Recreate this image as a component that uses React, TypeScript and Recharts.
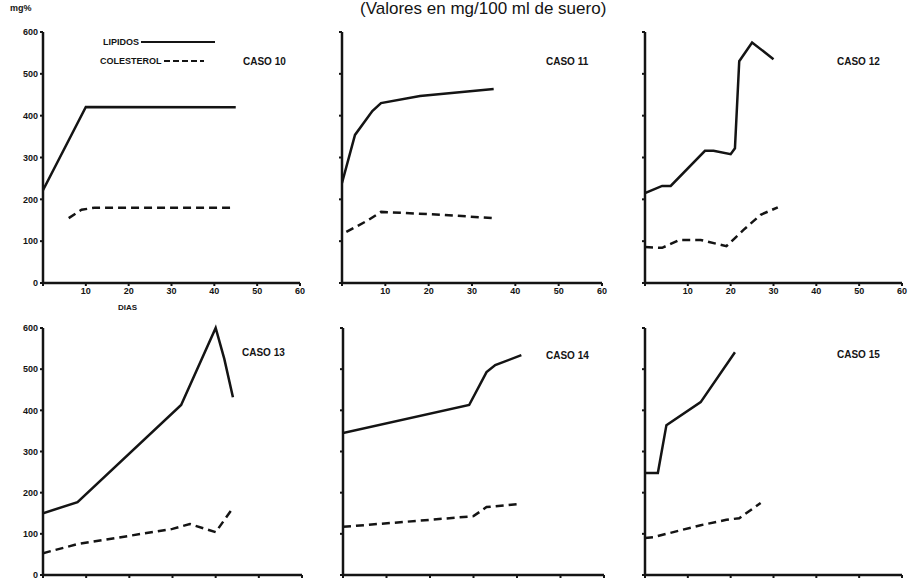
import { LineChart, Line, XAxis, YAxis } from 'recharts';

// Valores: [día, mg/100 ml]
const caso10Lipidos = [[0, 222], [10, 421], [45, 420]];
const caso10Colesterol = [[6, 155], [9, 175], [12, 180], [44, 180]];
const caso11Lipidos = [[0, 239], [3, 354], [7, 411], [9, 430], [18, 447], [35, 464]];
const caso11Colesterol = [[1, 122], [6, 150], [9, 170], [23, 163], [35, 155]];
const caso12Lipidos = [[0, 215], [4, 232], [6, 232], [14, 316], [16, 316], [20, 308], [21, 322], [22, 530], [25, 575], [30, 535]];
const caso12Colesterol = [[0, 86], [4, 84], [8, 103], [13, 103], [19, 88], [23, 127], [27, 163], [31, 181]];
const caso13Lipidos = [[0, 150], [8, 177], [32, 413], [40, 600], [42, 525], [44, 432]];
const caso13Colesterol = [[0, 53], [8, 75], [30, 112], [34, 124], [40, 104], [44, 163]];
const caso14Lipidos = [[0, 345], [29, 413], [33, 493], [35, 510], [41, 534]];
const caso14Colesterol = [[0, 117], [20, 134], [30, 143], [33, 165], [41, 173]];
const caso15Lipidos = [[0, 248], [3, 248], [5, 364], [13, 420], [21, 541]];
const caso15Colesterol = [[0, 90], [2, 92], [13, 121], [19, 134], [22, 138], [27, 175]];

const diasTicks = [0, 10, 20, 30, 40, 50, 60];
const mgTicks = [0, 100, 200, 300, 400, 500, 600];

const INK = '#141414';
const FONT = 'Arial, "Liberation Sans", sans-serif';

const toRows = (pts: number[][]) => pts.map(([dia, v]) => ({ dia, v }));

interface PanelProps {
    title: string;
    lipidos: number[][];
    colesterol: number[][];
    left: number;
    top: number;
    w: number;
    h: number;
    yLabels?: boolean;
    xLabels?: boolean;
    titlePos: [number, number];
}

function Panel({ title, lipidos, colesterol, left, top, w, h, yLabels, xLabels, titlePos }: PanelProps) {
    const tick = { fill: INK, fontSize: 9, fontWeight: 700, fontFamily: FONT };
    return (
        <>
            <div style={{ position: 'absolute', left: left - 40, top: top - 10 }}>
                <LineChart width={w + 50} height={h + 35} margin={{ top: 10, right: 10, left: 0, bottom: 0 }}>
                    <XAxis
                        type="number"
                        dataKey="dia"
                        domain={[0, 60]}
                        ticks={diasTicks}
                        height={25}
                        allowDataOverflow
                        tick={tick}
                        tickSize={3}
                        tickFormatter={(v) => (xLabels && v > 0 ? String(v) : '')}
                        axisLine={{ stroke: INK, strokeWidth: 2.5 }}
                        tickLine={{ stroke: INK, strokeWidth: 2 }}
                    />
                    <YAxis
                        type="number"
                        domain={[0, 600]}
                        ticks={mgTicks}
                        width={40}
                        tick={tick}
                        tickSize={3}
                        tickFormatter={(v) => (yLabels ? String(v) : '')}
                        axisLine={{ stroke: INK, strokeWidth: 2.5 }}
                        tickLine={{ stroke: INK, strokeWidth: 2 }}
                    />
                    <Line
                        data={toRows(lipidos)}
                        dataKey="v"
                        type="linear"
                        stroke={INK}
                        strokeWidth={2.5}
                        dot={false}
                        isAnimationActive={false}
                    />
                    <Line
                        data={toRows(colesterol)}
                        dataKey="v"
                        type="linear"
                        stroke={INK}
                        strokeWidth={2.5}
                        strokeDasharray="8 5"
                        dot={false}
                        isAnimationActive={false}
                    />
                </LineChart>
            </div>
            <div style={{ position: 'absolute', left: titlePos[0], top: titlePos[1], fontSize: 10, fontWeight: 700, color: INK, fontFamily: FONT }}>
                {title}
            </div>
        </>
    );
}

export default function App() {
    return (
        <div style={{ position: 'relative', width: 909, height: 581, background: '#fff', overflow: 'hidden', fontFamily: FONT }}>
            <style>{'body{margin:0}'}</style>
            <div style={{ position: 'absolute', left: 360, top: 0, fontSize: 17, lineHeight: '18px', color: INK, whiteSpace: 'nowrap' }}>
                (Valores en mg/100 ml de suero)
            </div>
            <div style={{ position: 'absolute', left: 10, top: 3, fontSize: 9, fontWeight: 700, color: INK }}>mg%</div>
            <div style={{ position: 'absolute', left: 118, top: 303, fontSize: 8, fontWeight: 700, color: INK }}>DIAS</div>

            {/* leyenda */}
            <div style={{ position: 'absolute', left: 103, top: 37, fontSize: 9, fontWeight: 700, color: INK, display: 'flex', alignItems: 'center' }}>
                LIPIDOS
                <svg width={78} height={6}><line x1={2} y1={3} x2={76} y2={3} stroke={INK} strokeWidth={2} /></svg>
            </div>
            <div style={{ position: 'absolute', left: 100, top: 56, fontSize: 9, fontWeight: 700, color: INK, display: 'flex', alignItems: 'center' }}>
                COLESTEROL
                <svg width={44} height={6}><line x1={2} y1={3} x2={42} y2={3} stroke={INK} strokeWidth={2} strokeDasharray="6 3" /></svg>
            </div>

            <Panel title="CASO 10" lipidos={caso10Lipidos} colesterol={caso10Colesterol}
                left={43} top={32} w={257} h={251} yLabels xLabels titlePos={[243, 56]} />
            <Panel title="CASO 11" lipidos={caso11Lipidos} colesterol={caso11Colesterol}
                left={342} top={32} w={260} h={251} xLabels titlePos={[546, 56]} />
            <Panel title="CASO 12" lipidos={caso12Lipidos} colesterol={caso12Colesterol}
                left={645} top={32} w={257} h={251} xLabels titlePos={[837, 56]} />
            <Panel title="CASO 13" lipidos={caso13Lipidos} colesterol={caso13Colesterol}
                left={43} top={328} w={259} h={247} yLabels titlePos={[242, 347]} />
            <Panel title="CASO 14" lipidos={caso14Lipidos} colesterol={caso14Colesterol}
                left={343} top={328} w={261} h={247} titlePos={[546, 350]} />
            <Panel title="CASO 15" lipidos={caso15Lipidos} colesterol={caso15Colesterol}
                left={645} top={328} w={257} h={247} titlePos={[837, 349]} />
        </div>
    );
}
